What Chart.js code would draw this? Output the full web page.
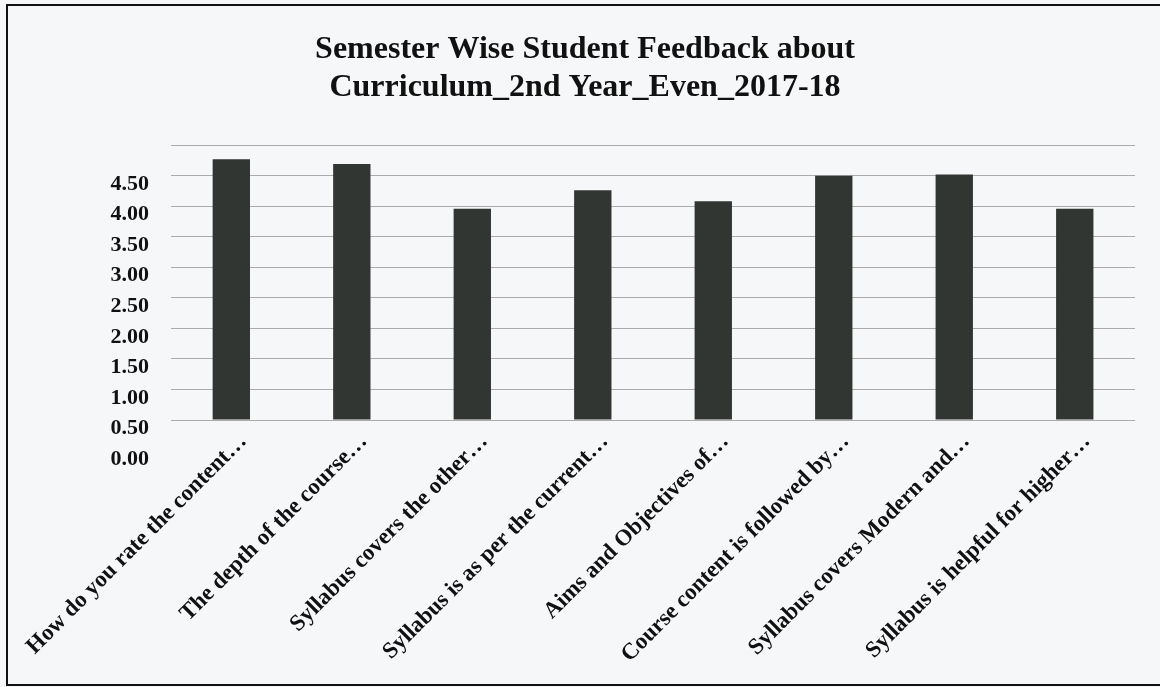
<!DOCTYPE html>
<html>
<head>
<meta charset="utf-8">
<script src="https://cdn.jsdelivr.net/npm/chart.js@4.4.0/dist/chart.umd.min.js"></script>
<style>
    body { margin: 0; background: #f6f7f9; }
    #wrap { position: relative; width: 1160px; height: 687px; overflow: hidden; }
    #frame { position: absolute; left: 6px; top: 4px; width: 1200px; height: 678px; border: 2px solid #111; }
    canvas { position: absolute; left: 0; top: 0; }
</style>
</head>
<body>
<div id="wrap">
    <div id="frame"></div>
    <canvas id="chart" width="1160" height="687"></canvas>
</div>
<script>
const titleLines = ['Semester Wise Student Feedback about', 'Curriculum_2nd Year_Even_2017-18'];

const categories = [
    'How do you rate the content…',
    'The depth of the course…',
    'Syllabus covers the other…',
    'Syllabus is as per the current…',
    'Aims and Objectives of…',
    'Course content is followed by…',
    'Syllabus covers Modern and…',
    'Syllabus is helpful for higher…'
];

const scores = [4.27, 4.19, 3.46, 3.76, 3.58, 4.00, 4.02, 3.46];

const serif = '"Liberation Serif", "Times New Roman", serif';

const ctx = document.getElementById('chart').getContext('2d');
new Chart(ctx, {
    type: 'bar',
    data: {
        labels: categories,
        datasets: [{
            data: scores,
            backgroundColor: '#323633',
            borderWidth: 0,
            barPercentage: 0.31,
            categoryPercentage: 1
        }]
    },
    options: {
        responsive: false,
        animation: false,
        layout: { padding: { left: 35, right: 25, top: 0, bottom: 0 } },
        plugins: {
            legend: { display: false },
            tooltip: { enabled: false },
            title: {
                display: true,
                text: titleLines,
                color: '#111',
                font: { family: serif, size: 32, weight: 'bold', lineHeight: 1.19 },
                padding: { top: 31, bottom: 38 }
            }
        },
        scales: {
            x: {
                grid: { display: false, drawTicks: false },
                border: { display: false },
                ticks: {
                    autoSkip: false,
                    maxRotation: 45,
                    minRotation: 45,
                    padding: 8,
                    labelOffset: 12,
                    color: '#111',
                    font: { family: serif, size: 23, weight: 'bold' }
                },
                afterFit: scale => { scale.height = 267; }
            },
            y: {
                min: 0,
                max: 4.5,
                grid: { color: '#ababab', lineWidth: 1, drawTicks: false },
                border: { display: false },
                ticks: {
                    stepSize: 0.5,
                    padding: 22,
                    labelOffset: 39,
                    color: '#111',
                    font: { family: serif, size: 22, weight: 'bold' },
                    callback: v => Number(v).toFixed(2)
                },
                afterFit: scale => { scale.width = 134; }
            }
        }
    }
});
</script>
</body>
</html>
